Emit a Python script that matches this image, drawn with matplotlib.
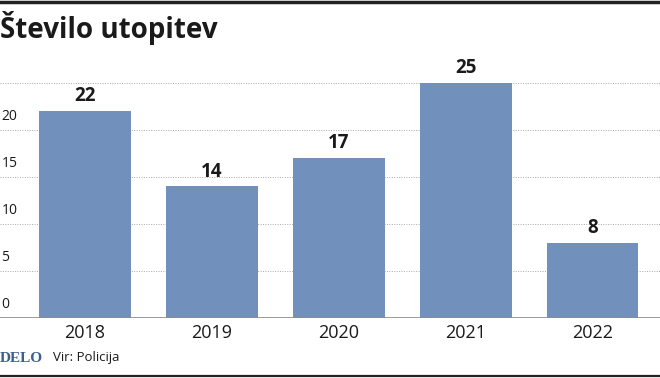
import matplotlib
matplotlib.use("Agg")
import matplotlib.pyplot as plt
from matplotlib.lines import Line2D

# Data
years = ["2018", "2019", "2020", "2021", "2022"]
drownings = [22, 14, 17, 25, 8]
y_ticks = [0, 5, 10, 15, 20]
grid_levels = [5, 10, 15, 20, 25]

BAR_COLOR = "#7190bb"
TEXT = "#1a1a1a"
FONT = ["Open Sans", "DejaVu Sans"]
NARROW = ["Liberation Sans Narrow", "Open Sans", "DejaVu Sans"]

W, H = 660, 378
fig = plt.figure(figsize=(W / 100, H / 100), dpi=100)

# axes: full width, baseline at y=318 px, value 25 at y=83 px
ax = fig.add_axes([0, 1 - 318 / H, 1, (318 - 83) / H])
x = list(range(len(years)))
ax.set_xlim(-0.67, 4.53)
ax.set_ylim(0, 25)

for g in grid_levels:
    ax.axhline(g, color="#a8a8a8", lw=0.7, ls=(0, (1, 1.5)), zorder=0)

ax.bar(x, drownings, width=0.72, color=BAR_COLOR, zorder=2)

for xi, v in zip(x, drownings):
    ax.annotate(str(v), (xi, v), xytext=(0, 3.5), textcoords="offset points",
                ha="center", va="bottom", fontsize=13.5, fontweight="bold",
                color=TEXT, family=FONT)

for t in y_ticks:
    ax.annotate(str(t), (0, t), xycoords=("axes fraction", "data"),
                xytext=(1, 4), textcoords="offset points",
                ha="left", va="bottom", fontsize=10, color=TEXT,
                family=NARROW)

ax.axhline(0, color="#8a8a8a", lw=1.2, zorder=3)

ax.set_xticks(x)
ax.set_xticklabels(years, fontsize=13, color=TEXT, family=FONT)
ax.tick_params(axis="x", length=0, pad=4)
ax.set_yticks([])
for s in ax.spines.values():
    s.set_visible(False)

# title
fig.text(0.0, 1 - 28 / H, "Število utopitev", ha="left", va="center",
         fontsize=20, fontweight="bold", color=TEXT, family=FONT)

# footer
fig.text(0.0, 1 - 358 / H, "DELO", ha="left", va="center", fontsize=11,
         fontweight="bold", color="#3d5f8f", family=["Liberation Serif", "DejaVu Serif"])
fig.text(53 / W, 1 - 358 / H, "Vir: Policija", ha="left", va="center",
         fontsize=9.5, color=TEXT, family=NARROW)

# frame lines top and bottom
fig.add_artist(Line2D([0, 1], [1 - 1.5 / H, 1 - 1.5 / H], color="#222222", lw=2.5,
                      transform=fig.transFigure))
fig.add_artist(Line2D([0, 1], [1 - 376 / H, 1 - 376 / H], color="#222222", lw=1.6,
                      transform=fig.transFigure))

fig.savefig("out.png", dpi=100)
